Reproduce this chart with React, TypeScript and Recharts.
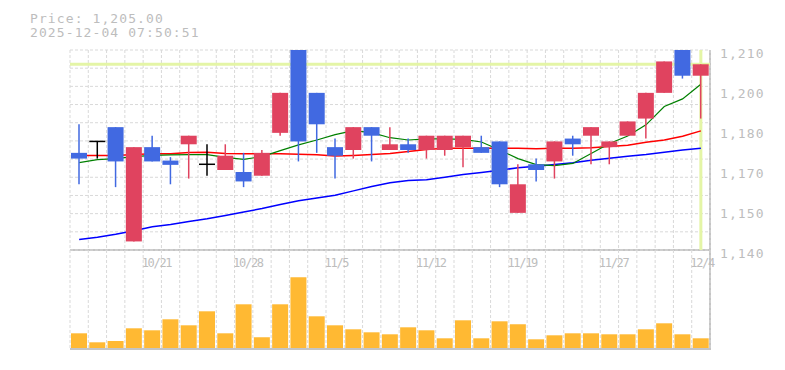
import React from "react";
import {
    ComposedChart,
    BarChart,
    Bar,
    Line,
    XAxis,
    YAxis,
    CartesianGrid,
    ReferenceLine
} from "recharts";

const dates = [
    "10/15", "10/16", "10/17", "10/20", "10/21", "10/22", "10/23", "10/24", "10/27", "10/28",
    "10/29", "10/30", "10/31", "11/4", "11/5", "11/6", "11/7", "11/10", "11/11", "11/12",
    "11/13", "11/14", "11/17", "11/18", "11/19", "11/20", "11/21", "11/25", "11/26", "11/27",
    "11/28", "12/1", "12/2", "12/3", "12/4"
];
const opens = [
    1174, 1178, 1183, 1143, 1176, 1171.3, 1177, 1170, 1168, 1167.3,
    1166, 1181, 1213, 1195, 1176, 1175, 1183, 1175, 1177, 1175,
    1175, 1176, 1176, 1178, 1153, 1170, 1171, 1179, 1180, 1176,
    1180, 1186, 1195, 1212, 1201
];
const highs = [
    1184, 1178, 1183, 1176, 1180, 1172.5, 1180, 1177, 1177, 1174,
    1175, 1195, 1215, 1195, 1179, 1183, 1183, 1183, 1179, 1180,
    1180, 1180, 1180, 1178, 1170, 1172, 1178, 1180, 1183, 1178,
    1185, 1195, 1206, 1213, 1205
];
const lows = [
    1163, 1172, 1162, 1143, 1171, 1163, 1165, 1166, 1168, 1162,
    1166, 1180, 1171, 1174, 1165, 1172, 1171, 1175, 1174, 1172,
    1173, 1169, 1174, 1162, 1153, 1164, 1165, 1173, 1170, 1170,
    1180, 1179, 1195, 1200, 1186
];
const closes = [
    1172, 1178, 1171, 1176, 1171, 1169.8, 1180, 1170, 1173, 1164,
    1174, 1195, 1178, 1184, 1173, 1183, 1180, 1177, 1175, 1180,
    1180, 1180, 1174, 1163, 1163, 1168, 1178, 1177, 1183, 1178,
    1185, 1195, 1206, 1201, 1205
];
// moving averages
const ma5 = [
    1170.6, 1171.6, 1172.0, 1172.7, 1173.1, 1173.3, 1173.4, 1173.4, 1172.4, 1171.7,
    1172.7, 1174.8, 1176.8, 1178.5, 1180.4, 1181.8, 1181.1, 1179.3, 1178.5, 1178.9,
    1178.9, 1178.7, 1177.8, 1175.0, 1172.0, 1169.9, 1169.5, 1170.3, 1173.8, 1177.3,
    1179.9, 1183.8, 1190.2, 1192.9, 1198.0
];
const ma25 = [
    1173.1, 1173.1, 1173.1, 1173.4, 1173.7, 1173.7, 1174.1, 1174.2, 1173.8, 1173.7,
    1173.7, 1173.7, 1173.5, 1173.3, 1172.9, 1173.1, 1173.4, 1173.8, 1174.5, 1175.2,
    1175.6, 1175.6, 1175.6, 1175.6, 1175.6, 1175.4, 1175.6, 1175.6, 1175.8, 1176.2,
    1176.7, 1177.7, 1178.5, 1179.8, 1181.7
];
const ma75 = [
    1143.7, 1144.5, 1145.5, 1146.7, 1148.1, 1148.9, 1150.0, 1150.9, 1152.1, 1153.3,
    1154.5, 1155.9, 1157.2, 1158.2, 1159.2, 1160.7, 1162.2, 1163.5, 1164.3, 1164.6,
    1165.5, 1166.4, 1167.1, 1167.9, 1168.8, 1169.3, 1169.9, 1170.5, 1171.4, 1172.1,
    1172.8, 1173.4, 1174.2, 1175.0, 1175.6
];
const volumes = [
    14700, 5700, 7000, 19700, 17700, 28700, 22700, 36700, 14700, 43700,
    10700, 43700, 70700, 31700, 22700, 18700, 15700, 13700, 20700, 17700,
    9700, 27700, 9700, 26700, 23700, 8700, 12700, 14700, 14700, 13700,
    13700, 18700, 24700, 13700, 9700
];

const lastPrice = 1205;
const priceTicks = [1210, 1196, 1182, 1168, 1154, 1140];
const priceTickLabels = ["1,210", "1,200", "1,180", "1,170", "1,150", "1,140"];
const dateTicks = ["10/21", "10/28", "11/5", "11/12", "11/19", "11/27", "12/4"];

const data = dates.map((date, i) => ({
    date,
    open: opens[i],
    high: highs[i],
    low: lows[i],
    close: closes[i],
    ma5: ma5[i],
    ma25: ma25[i],
    ma75: ma75[i],
    volume: volumes[i]
}));

const MONO = "'DejaVu Sans Mono', monospace";
const TEXT_GRAY = "#bdbdbd";
const UP = "#e0435f";
const DOWN = "#4169e1";
const BORDER = "#c4c4c4";
const GRID = "#d9d9d9";
const HILITE = "#e4f5a6";

const PRICE_MARGIN = { top: 50, right: 0, bottom: 100, left: 70 };

// grid lines on the slot boundaries, and 11 equal rows in the price panel
const slotLines = ({ offset }: any) =>
    Array.from({ length: dates.length + 1 }, (_, k) => offset.left + (offset.width * k) / dates.length);
const rowLines = ({ offset }: any) =>
    Array.from({ length: 12 }, (_, k) => offset.top + (offset.height * k) / 11);

const Candle = (props: any) => {
    const { x, y, width, height, payload } = props;
    const { open, close, high, low } = payload;
    const cx = x + width / 2;
    const toY = (v: number) => y + ((high - v) / (high - low)) * height;
    const doji = open === close;
    const color = doji ? "#000" : close > open ? UP : DOWN;
    const top = toY(Math.max(open, close));
    const bot = toY(Math.min(open, close));
    return (
        <g>
            <line x1={cx} x2={cx} y1={y} y2={y + height} stroke={color} strokeWidth={1.5} />
            {doji ? (
                <line x1={x} x2={x + width} y1={top} y2={top} stroke="#000" strokeWidth={1.5} />
            ) : (
                <rect x={x} y={top} width={width} height={Math.max(bot - top, 1)} fill={color} />
            )}
        </g>
    );
};

const PriceTick = (props: any) => {
    const { x, y, payload } = props;
    const label = priceTickLabels[priceTicks.indexOf(payload.value)];
    return (
        <text x={x + 10} y={y + 8.3} fill={TEXT_GRAY} fontSize={13} letterSpacing={1.1} fontFamily={MONO} textAnchor="start">
            {label}
        </text>
    );
};

const DateTick = (props: any) => {
    const { x, y, payload } = props;
    return (
        <text x={x - 10.6} y={y + 16.5} fill={TEXT_GRAY} fontSize={12} letterSpacing={-1.3} fontFamily={MONO} textAnchor="start">
            {payload.value}
        </text>
    );
};

// both price layers share these axes so they line up exactly
const priceAxes = (showTicks: boolean) => [
    <XAxis
        key="x"
        dataKey="date"
        scale="band"
        height={20}
        ticks={dateTicks}
        interval={0}
        axisLine={false}
        tickLine={false}
        tickSize={0}
        tickMargin={0}
        tick={showTicks ? <DateTick /> : false}
    />,
    <YAxis
        key="y"
        orientation="right"
        width={75}
        domain={[1140, 1210]}
        allowDataOverflow
        ticks={priceTicks}
        interval={0}
        axisLine={false}
        tickLine={false}
        tickSize={0}
        tickMargin={0}
        tick={showTicks ? <PriceTick /> : false}
    />
];

export default function App() {
    return (
        <div style={{ position: "absolute", left: 0, top: 0, width: 785, height: 370, background: "#fff" }}>
            <div style={{ position: "absolute", left: 709, top: 50, width: 2, height: 300, background: BORDER }} />
            <div style={{ position: "absolute", left: 70, top: 249, width: 641, height: 2, background: BORDER }} />
            <div style={{ position: "absolute", left: 70, top: 348, width: 641, height: 2, background: BORDER }} />

            <svg width={785} height={45} style={{ position: "absolute", left: 0, top: 0 }}>
                <text x={30} y={22.7} fill={TEXT_GRAY} fontSize={13} letterSpacing={1.1} fontFamily={MONO}>
                    Price: 1,205.00
                </text>
                <text x={30} y={37.3} fill={TEXT_GRAY} fontSize={13} letterSpacing={1.1} fontFamily={MONO}>
                    2025-12-04 07:50:51
                </text>
            </svg>

            <div style={{ position: "absolute", left: 0, top: 250 }}>
                <BarChart
                    width={785}
                    height={110}
                    data={data}
                    margin={{ top: 0, right: 75, bottom: 12, left: 70 }}
                >
                    <XAxis dataKey="date" hide />
                    <YAxis hide domain={[0, 98000]} />
                    <CartesianGrid horizontal={false} verticalCoordinatesGenerator={slotLines} stroke={GRID} strokeDasharray="3 2" />
                    <Bar dataKey="volume" fill="#ffb933" barSize={16} isAnimationActive={false} />
                </BarChart>
            </div>

            {/* grid, highlight lines and moving averages */}
            <div style={{ position: "absolute", left: 0, top: 0 }}>
                <ComposedChart width={785} height={370} data={data} margin={PRICE_MARGIN}>
                    <CartesianGrid
                        verticalCoordinatesGenerator={slotLines}
                        horizontalCoordinatesGenerator={rowLines}
                        stroke={GRID}
                        strokeDasharray="3 2"
                    />
                    {priceAxes(true)}
                    <ReferenceLine y={lastPrice} stroke={HILITE} strokeWidth={3} />
                    <ReferenceLine x={dates[dates.length - 1]} stroke={HILITE} strokeWidth={3} />
                    <Line dataKey="ma75" stroke="#0000ff" strokeWidth={1.5} dot={false} isAnimationActive={false} />
                    <Line dataKey="ma25" stroke="#ff0000" strokeWidth={1.5} dot={false} isAnimationActive={false} />
                    <Line dataKey="ma5" stroke="#008000" strokeWidth={1.2} dot={false} isAnimationActive={false} />
                </ComposedChart>
            </div>

            {/* candles on top */}
            <div style={{ position: "absolute", left: 0, top: 0 }}>
                <ComposedChart width={785} height={370} data={data} margin={PRICE_MARGIN}>
                    {priceAxes(false)}
                    <Bar
                        dataKey={(d: any) => [d.low, d.high]}
                        barSize={16}
                        shape={<Candle />}
                        isAnimationActive={false}
                    />
                </ComposedChart>
            </div>
        </div>
    );
}
